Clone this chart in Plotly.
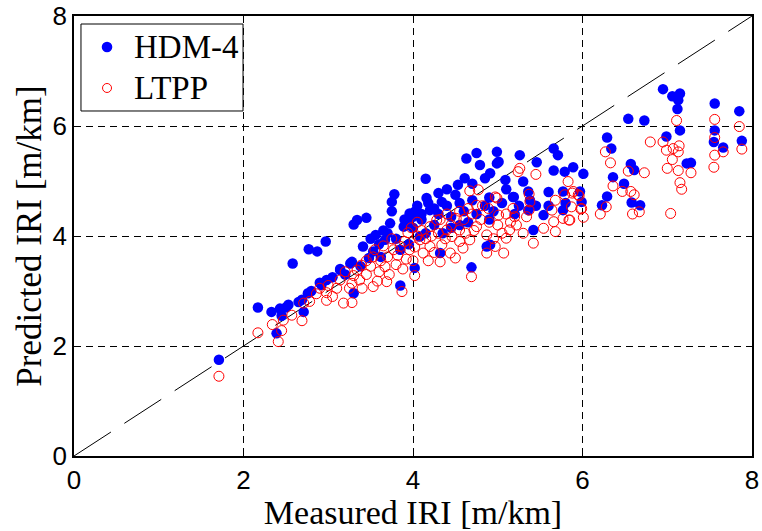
import plotly.graph_objects as go

# HDM-4 predictions (measured IRI, predicted IRI) in m/km
hdm_x = [1.71, 2.17, 2.33, 2.43, 2.53, 2.39, 2.58, 2.69, 2.76, 2.71, 2.77, 2.87, 2.97, 2.92, 2.98,
         3.14, 3.26, 3.30, 3.14, 3.28, 3.30, 3.34, 3.45, 3.56, 3.41, 3.53, 3.67, 3.73, 3.75, 3.78,
         3.89, 3.96, 4.02, 3.85, 4.02, 4.32, 4.69, 4.15, 4.16, 4.18, 4.08, 4.20, 4.34, 4.50, 4.53,
         4.61, 4.63, 4.75, 4.79, 4.91, 4.99, 5.01, 5.09, 4.99, 5.18, 5.26, 5.30, 5.46, 5.66, 5.71,
         5.66, 5.79, 5.89, 6.01, 5.77, 5.97, 5.54, 5.42, 4.91, 4.87, 5.36, 5.38, 5.19, 5.36, 5.99,
         5.77, 6.23, 6.29, 6.29, 6.34, 6.54, 6.73, 6.95, 7.06, 7.15, 7.13, 7.12, 7.15, 6.99, 7.23,
         7.28, 6.57, 6.61, 6.36, 6.49, 6.58, 6.68, 7.56, 7.85, 7.56, 7.55, 7.66, 7.88,
         3.60, 3.70, 3.80, 3.90, 4.00, 4.05, 4.10, 4.25, 4.30, 4.40, 4.45, 4.55, 4.60, 4.70, 4.75,
         4.85, 4.90, 4.95, 5.05, 5.10, 4.85, 4.70, 4.40, 4.30, 3.95, 3.62, 3.48, 3.38, 3.20, 3.05,
         2.90, 2.80, 2.65, 2.50, 2.45, 3.85, 4.15, 4.25, 4.55, 4.65, 4.90, 5.20, 5.25, 5.45, 5.60,
         5.80, 5.60, 3.50, 3.65, 3.95, 4.10, 4.35, 4.45, 4.00, 3.75]
hdm_y = [1.75, 2.70, 2.62, 2.68, 2.75, 2.23, 3.50, 2.84, 2.96, 2.62, 3.76, 3.72, 3.90, 3.11, 3.20,
         3.38, 3.50, 2.96, 3.40, 3.53, 4.21, 4.29, 4.33, 4.02, 3.81, 3.72, 3.93, 4.23, 4.62, 4.76,
         4.17, 4.41, 4.44, 3.10, 3.42, 3.69, 3.43, 5.04, 4.69, 4.60, 3.99, 4.47, 4.62, 4.75, 4.93,
         5.05, 5.41, 5.51, 5.29, 5.14, 5.53, 5.35, 5.02, 5.32, 4.71, 5.47, 4.99, 5.34, 5.59, 5.47,
         5.19, 5.17, 5.25, 5.13, 4.81, 4.81, 4.38, 4.11, 3.84, 3.81, 4.47, 4.65, 4.71, 4.81, 4.62,
         4.47, 4.56, 4.72, 5.79, 5.59, 6.13, 6.10, 6.67, 6.54, 6.59, 6.47, 6.31, 5.92, 5.81, 5.32,
         5.33, 5.31, 5.20, 5.07, 4.95, 4.61, 4.56, 6.41, 6.27, 5.92, 5.71, 5.61, 5.73,
         3.85, 4.05, 3.95, 4.30, 4.15, 4.55, 4.30, 4.50, 4.40, 4.55, 4.35, 4.60, 4.45, 4.65, 4.40,
         4.55, 4.70, 4.45, 4.60, 4.85, 5.05, 4.95, 4.85, 4.78, 3.85, 3.62, 3.60, 3.45, 3.30, 3.25,
         3.15, 3.00, 2.80, 2.70, 2.55, 3.75, 4.05, 4.20, 4.20, 4.25, 4.30, 4.40, 4.55, 4.55, 4.55,
         4.60, 4.80, 3.95, 4.10, 4.20, 4.40, 4.05, 4.15, 4.35, 4.45]

# LTPP predictions (measured IRI, predicted IRI) in m/km
ltpp_x = [1.71, 2.17, 2.34, 2.41, 2.45, 2.47, 2.57, 2.69, 2.71, 2.78, 2.86, 2.98, 2.98, 3.10, 3.18,
          3.28, 3.28, 3.37, 3.53, 3.69, 3.87, 2.90, 3.14, 3.39, 3.34, 3.53, 3.67, 3.77, 3.85, 3.94,
          3.96, 4.67, 4.77, 4.97, 5.26, 5.24, 5.45, 5.37, 5.38, 5.37, 5.34, 5.83, 5.89, 5.95, 5.79,
          5.68, 5.64, 5.77, 5.85, 5.87, 5.99, 6.01, 5.66, 5.54, 5.68, 5.42, 5.18, 5.20, 5.22, 5.30,
          5.14, 5.05, 5.10, 4.97, 4.87, 5.07, 4.99, 4.89, 5.01, 4.65, 4.75, 4.51, 4.40, 4.28, 4.20,
          4.08, 4.55, 4.75, 4.87, 4.67, 4.55, 4.46, 4.34, 4.44, 4.59, 4.20, 4.12, 4.69, 4.02, 4.32,
          6.27, 6.33, 6.54, 6.73, 6.36, 6.47, 6.57, 6.61, 6.21, 6.59, 6.67, 6.28, 6.80, 6.95, 7.11,
          6.99, 7.07, 7.14, 7.13, 7.06, 7.00, 7.13, 7.28, 7.15, 7.17, 7.04, 7.56, 7.56, 7.56, 7.66,
          7.55, 7.85, 7.88, 5.96, 5.88, 5.84, 5.98,
          3.20, 3.30, 3.45, 3.50, 3.60, 3.62, 3.70, 3.72, 3.80, 3.82, 3.88, 3.92, 4.00, 4.02, 4.05,
          4.10, 4.15, 4.18, 4.22, 4.25, 4.30, 4.32, 4.38, 4.40, 4.45, 4.50, 4.55, 4.60, 4.62, 4.70,
          4.72, 4.80, 4.82, 4.90, 4.95, 5.00, 5.10, 5.15, 3.45, 3.55, 3.65, 3.75, 3.90, 3.98, 4.05,
          3.58, 3.40, 3.25, 3.05, 3.00]
ltpp_y = [1.45, 2.24, 2.39, 2.08, 2.28, 2.47, 2.56, 2.46, 2.78, 2.81, 2.95, 2.83, 2.97, 3.05, 2.78,
          2.79, 3.14, 3.20, 3.08, 3.17, 2.99, 3.05, 3.20, 3.47, 3.38, 3.62, 3.44, 3.75, 3.81, 4.06,
          3.75, 4.82, 4.84, 4.71, 5.23, 5.17, 5.12, 4.76, 4.62, 4.47, 4.35, 4.99, 4.81, 4.75, 4.75,
          4.65, 4.47, 4.32, 4.29, 4.53, 4.50, 4.34, 4.26, 4.14, 4.08, 3.87, 4.50, 4.35, 4.20, 4.05,
          4.11, 4.05, 3.96, 3.81, 3.69, 3.69, 4.69, 4.50, 4.38, 4.50, 4.56, 4.32, 4.11, 4.29, 4.17,
          3.93, 4.11, 4.17, 4.02, 3.93, 3.90, 3.99, 3.84, 3.69, 3.78, 3.81, 3.69, 3.26, 3.28, 3.53,
          5.53, 5.33, 5.18, 5.15, 4.91, 4.81, 4.81, 4.75, 4.40, 4.40, 4.44, 4.53, 5.71, 5.71, 6.10,
          5.56, 5.59, 5.64, 5.53, 5.39, 5.23, 5.19, 5.15, 4.97, 4.85, 4.41, 6.12, 5.79, 5.47, 5.53,
          5.25, 5.99, 5.58, 4.73, 4.78, 4.29, 4.49,
          3.35, 3.28, 3.30, 3.45, 3.35, 3.55, 3.62, 3.30, 3.48, 3.65, 3.40, 3.58, 3.55, 3.80, 4.00,
          4.10, 3.95, 3.55, 4.00, 3.70, 4.05, 4.30, 3.95, 4.40, 4.20, 3.60, 4.45, 4.30, 4.05, 4.40,
          4.10, 4.30, 4.55, 4.25, 3.95, 4.20, 4.40, 4.25, 3.55, 3.75, 3.82, 3.95, 3.90, 4.15, 4.25,
          3.18, 3.05, 3.05, 2.90, 3.10]

line_x = [0, 8]
line_y = [0, 8]

series_names = ["HDM-4", "LTPP"]
series_colors = ["#0000ff", "#ff0000"]

serif = "Liberation Serif, Times New Roman, serif"
sans = "Liberation Sans, Arial, sans-serif"

fig = go.Figure()
fig.add_trace(go.Scatter(x=line_x, y=line_y, mode="lines", showlegend=False,
                         line=dict(color="black", width=1, dash="44px,16px"), hoverinfo="skip"))
fig.add_trace(go.Scatter(x=hdm_x, y=hdm_y, mode="markers", name=series_names[0],
                         marker=dict(symbol="circle", size=10.5, color=series_colors[0],
                                     line=dict(width=0))))
fig.add_trace(go.Scatter(x=ltpp_x, y=ltpp_y, mode="markers", name=series_names[1],
                         marker=dict(symbol="circle-open", size=10, color=series_colors[1],
                                     line=dict(width=1, color=series_colors[1]))))

axis_common = dict(range=[0, 8], tickvals=[0, 2, 4, 6, 8], ticks="inside", ticklen=5,
                   tickcolor="black", showline=True, linecolor="black", linewidth=1.5,
                   mirror="ticks", showgrid=True, gridcolor="black", gridwidth=1,
                   griddash="7px,5px", zeroline=False, automargin=False,
                   tickfont=dict(family=sans, size=26, color="black"))

# Legend drawn as a boxed key (MATLAB-style), positioned in paper coordinates
leg_x0, leg_x1, leg_y0, leg_y1 = 0.0103, 0.2493, 0.7841, 0.9818
sym_x = 0.0487
txt_x = 0.0855
row_y = [0.9295, 0.8364]

shapes = [dict(type="rect", xref="paper", yref="paper", x0=leg_x0, x1=leg_x1, y0=leg_y0, y1=leg_y1,
               line=dict(color="black", width=1), fillcolor="white", layer="above")]
shapes.append(dict(type="circle", xref="paper", yref="paper", xsizemode="pixel", ysizemode="pixel",
                   xanchor=sym_x, yanchor=row_y[0], x0=-5.3, x1=5.3, y0=-5.3, y1=5.3,
                   fillcolor=series_colors[0], line=dict(width=0), layer="above"))
shapes.append(dict(type="circle", xref="paper", yref="paper", xsizemode="pixel", ysizemode="pixel",
                   xanchor=sym_x, yanchor=row_y[1], x0=-4.5, x1=4.5, y0=-4.5, y1=4.5,
                   fillcolor="rgba(0,0,0,0)", line=dict(width=1, color=series_colors[1]),
                   layer="above"))

annotations = [dict(text=series_names[i], xref="paper", yref="paper", x=txt_x, y=row_y[i],
                    xanchor="left", yanchor="middle", showarrow=False,
                    font=dict(family=serif, size=33, color="black")) for i in range(2)]

fig.update_layout(
    width=762, height=531,
    margin=dict(l=74, r=10, t=16, b=75),
    plot_bgcolor="white", paper_bgcolor="white",
    xaxis=dict(axis_common, title=dict(text="Measured IRI [m/km]",
                                       font=dict(family=serif, size=34, color="black"),
                                       standoff=3)),
    yaxis=dict(axis_common, title=dict(text="Predicted IRI [m/km]",
                                       font=dict(family=serif, size=35, color="black"),
                                       standoff=0)),
    shapes=shapes,
    annotations=annotations,
    showlegend=False,
)

fig.write_html("out.html")
